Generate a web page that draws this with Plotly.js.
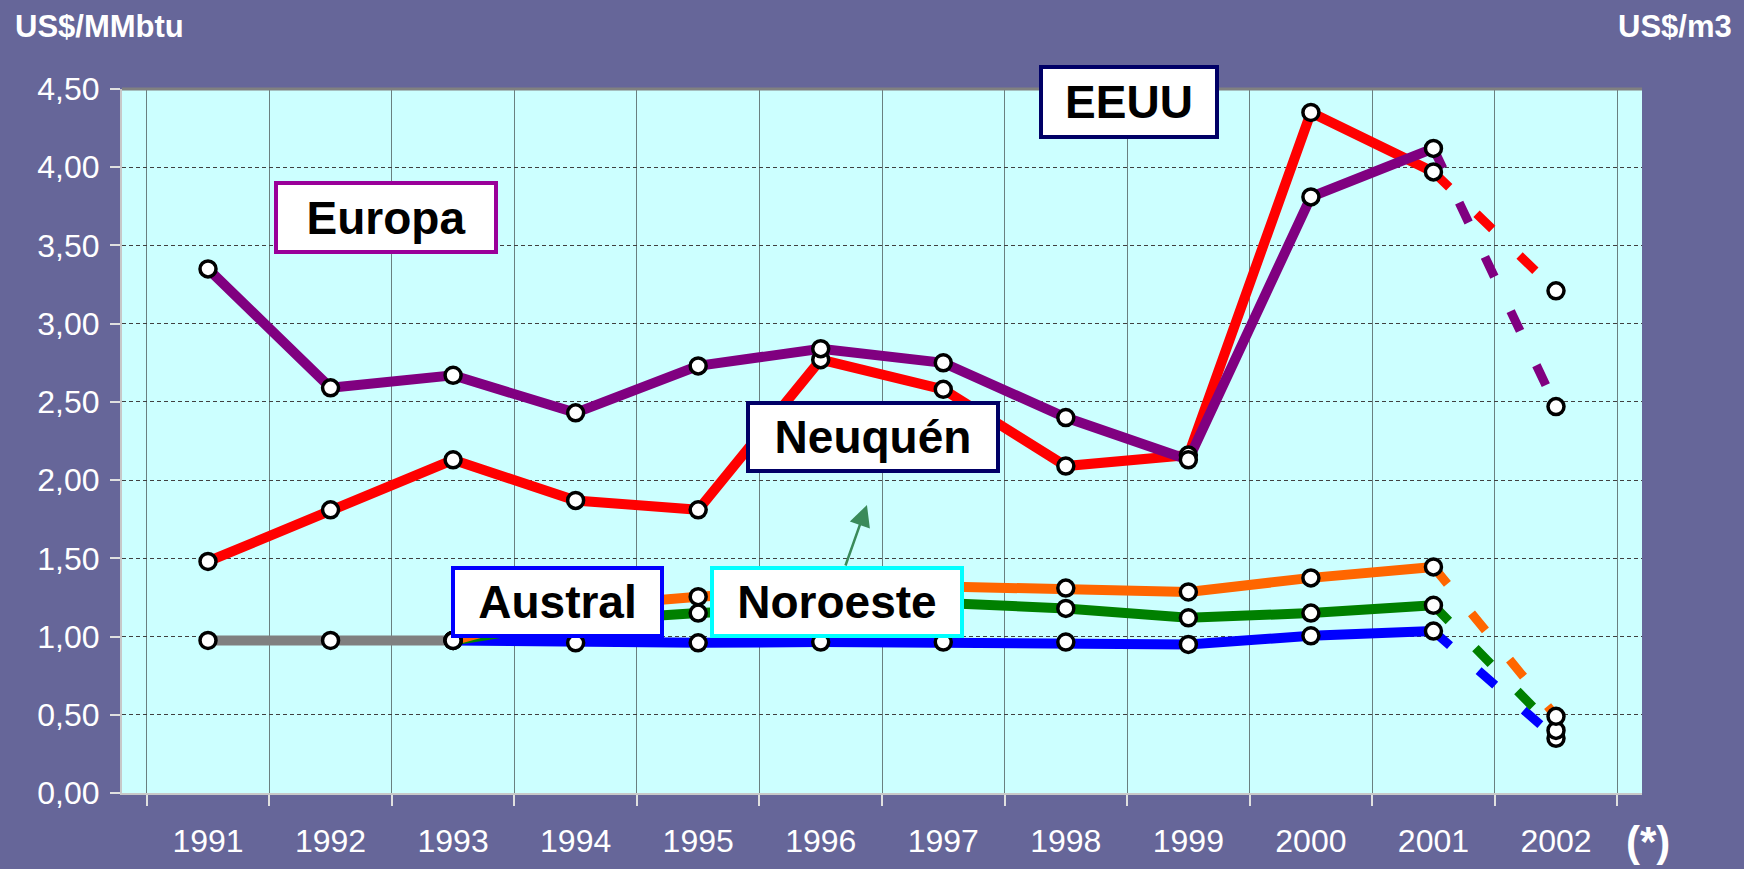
<!DOCTYPE html>
<html>
<head>
<meta charset="utf-8">
<script src="https://cdn.plot.ly/plotly-3.0.1.min.js"></script>
<style>
  html, body { margin: 0; padding: 0; background: #666699; }
  #chart { width: 1744px; height: 869px; }
</style>
</head>
<body>
<div id="chart"></div>
<script>
// ---- Data (US$/MMbtu) ----
const years = ['1991','1992','1993','1994','1995','1996','1997','1998','1999','2000','2001','2002'];
const europa   = [3.35, 2.59, 2.67, 2.43, 2.73, 2.84, 2.75, 2.40, 2.13, 3.81, 4.12, 2.47];
const eeuu     = [1.48, 1.81, 2.13, 1.87, 1.81, 2.77, 2.58, 2.09, 2.16, 4.35, 3.97, 3.21];
const neuquen  = [null, null, 0.975, 1.19, 1.255, 1.30, 1.32, 1.31, 1.285, 1.375, 1.445, 0.49];
const noroeste = [null, null, 0.975, 1.10, 1.15, 1.19, 1.215, 1.18, 1.12, 1.15, 1.20, 0.40];
const austral  = [null, null, 0.975, 0.96, 0.96, 0.965, 0.965, 0.965, 0.95, 1.005, 1.035, 0.35];
const regulado = [0.975, 0.975, 0.975, null, null, null, null, null, null, null, null, null];

// right axis tick labels (US$/m3)
const m3TickVals = [0, 0.025, 0.05, 0.075, 0.10, 0.125, 0.15];
const m3TickText = ['0,00','0,03','0,05','0,08','0,10','0,13','0,15'];
const m3Max = 0.1658;

const series = [
  {name: 'EEUU',     y: eeuu,     color: '#FF0000'},
  {name: 'Europa',   y: europa,   color: '#800080'},
  {name: 'Regulado', y: regulado, color: '#808080'},
  {name: 'Austral',  y: austral,  color: '#0000FF'},
  {name: 'Noroeste', y: noroeste, color: '#008000'},
  {name: 'Neuquén',  y: neuquen,  color: '#FF6600'}
];

const traces = [];
const solidX = years.slice(0, 11);
const dashX = years.slice(10);
series.forEach(s => {
  traces.push({
    x: solidX, y: s.y.slice(0, 11), type: 'scatter', mode: 'lines',
    line: {color: s.color, width: 10}, connectgaps: false, hoverinfo: 'skip'
  });
  const d = s.y.slice(10);
  if (d[0] != null && d[1] != null) {
    traces.push({
      x: dashX, y: d, type: 'scatter', mode: 'lines',
      line: {color: s.color, width: 9, dash: '22px,38px'}, hoverinfo: 'skip'
    });
  }
});
series.forEach(s => {
  traces.push({
    x: years, y: s.y, type: 'scatter', mode: 'markers',
    marker: {size: 16, color: '#FFFFFF', line: {color: '#000000', width: 3.5}},
    hoverinfo: 'skip'
  });
});

const font = 'Liberation Sans, Arial, sans-serif';
const boxFont = {family: font, size: 46, color: '#000000', weight: 'bold'};

function box(text, xc, yc, w, h, border) {
  return {
    xref: 'paper', yref: 'paper', x: xc, y: yc, xanchor: 'center', yanchor: 'middle',
    text: '<b>' + text + '</b>', showarrow: false, font: boxFont,
    bgcolor: '#FFFFFF', bordercolor: border, borderwidth: 4, borderpad: 0,
    width: w, height: h
  };
}

const layout = {
  width: 1744, height: 869,
  paper_bgcolor: '#666699', plot_bgcolor: '#CCFFFF',
  separators: ',.',
  showlegend: false,
  margin: {l: 122, r: 102, t: 89, b: 76},
  font: {family: font, color: '#FFFFFF'},
  xaxis: {
    type: 'category', tickson: 'boundaries',
    showgrid: true, gridcolor: '#6a8080', gridwidth: 1,
    ticks: 'outside', ticklen: 11, tickwidth: 2, tickcolor: '#E0E0E0',
    showline: true, linecolor: '#C8C8C8', linewidth: 2,
    tickfont: {family: font, size: 32, color: '#FFFFFF'},
    ticklabelstandoff: 19, zeroline: false, fixedrange: true
  },
  yaxis: {
    range: [0, 4.5], dtick: 0.5, tick0: 0, tickformat: '.2f',
    showgrid: true, gridcolor: '#404040', gridwidth: 1, griddash: '4px,3px',
    ticks: 'outside', ticklen: 10, tickwidth: 2, tickcolor: '#E0E0E0',
    showline: true, linecolor: '#C8C8C8', linewidth: 2,
    tickfont: {family: font, size: 32, color: '#FFFFFF'},
    ticklabelstandoff: 4, zeroline: false, fixedrange: true
  },
  yaxis2: {
    overlaying: 'y', side: 'right', range: [0, m3Max],
    tickvals: m3TickVals, ticktext: m3TickText,
    showgrid: false, zeroline: false,
    ticks: 'outside', ticklen: 10, tickwidth: 2, tickcolor: '#E0E0E0',
    showline: true, linecolor: '#A0A0A0', linewidth: 2,
    tickfont: {family: font, size: 32, color: '#FFFFFF'},
    ticklabelstandoff: 25, fixedrange: true
  },
  shapes: [
    {type: 'line', xref: 'paper', yref: 'paper', x0: 0, x1: 1, y0: 1, y1: 1,
     line: {color: '#808080', width: 3}}
  ],
  annotations: [
    box('Europa',   0.1734, 0.8168, 216, 65, '#990099'),
    box('EEUU',     0.6625, 0.9815, 172, 66, '#000066'),
    box('Neuquén',  0.4944, 0.5057, 246, 64, '#000066'),
    box('Austral',  0.2865, 0.2713, 205, 64, '#0000FF'),
    box('Noroeste', 0.4701, 0.2706, 246, 64, '#00FFFF'),
    {xref: 'paper', yref: 'paper', x: 0.4901, y: 0.4091, ax: -22, ay: 62,
     axref: 'pixel', ayref: 'pixel', text: '', showarrow: true,
     arrowcolor: '#3A8A5A', arrowwidth: 2.5, arrowhead: 2, arrowsize: 1.7},
    {xref: 'paper', yref: 'paper', x: -0.0717, y: 1.117, xanchor: 'left', yanchor: 'top',
     text: '<b>US$/MMbtu</b>', showarrow: false,
     font: {family: font, size: 31, color: '#FFFFFF'}},
    {xref: 'paper', yref: 'paper', x: 1.0605, y: 1.117, xanchor: 'right', yanchor: 'top',
     text: '<b>US$/m3</b>', showarrow: false,
     font: {family: font, size: 31, color: '#FFFFFF'}},
    {xref: 'paper', yref: 'paper', x: 1.0039, y: -0.033, xanchor: 'center', yanchor: 'top',
     text: '<b>(*)</b>', showarrow: false,
     font: {family: font, size: 42, color: '#FFFFFF'}}
  ]
};

Plotly.newPlot('chart', traces, layout, {displayModeBar: false, staticPlot: true});
</script>
</body>
</html>
